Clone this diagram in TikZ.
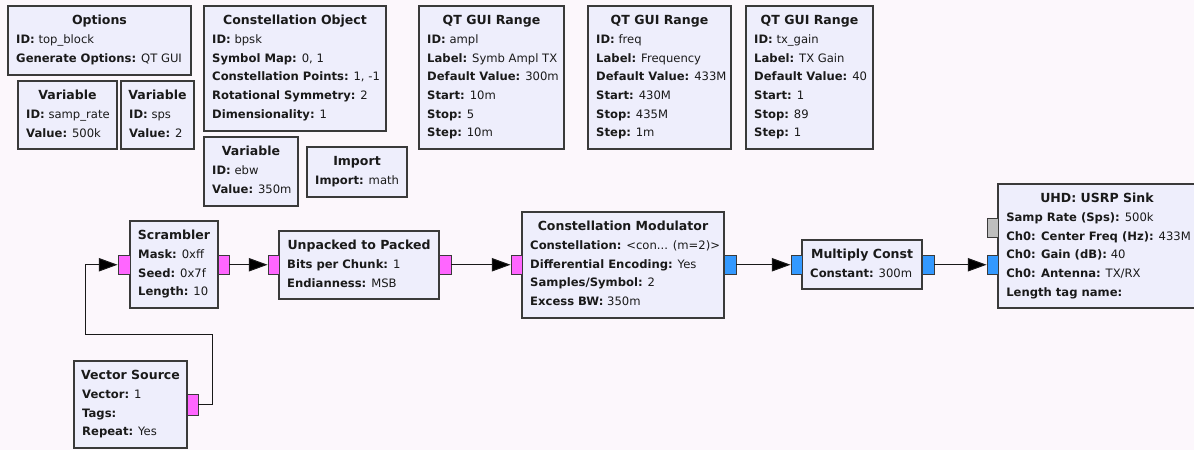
\documentclass[tikz,border=0pt]{standalone}
\usepackage{fontspec}
\setmainfont{DejaVu Sans}
\usetikzlibrary{fit,calc,arrows.meta}
\definecolor{bg}{HTML}{FCF7FC}
\definecolor{boxfill}{HTML}{EEEEFC}
\definecolor{boxline}{HTML}{3A3A3A}
\definecolor{txt}{HTML}{1A1A1A}
\definecolor{pmag}{HTML}{FF66FF}
\definecolor{pblue}{HTML}{3399FF}
\definecolor{pgray}{HTML}{BEBEBE}
\tikzset{
  blkbox/.style={draw=boxline, fill=boxfill, line width=0.8pt, inner sep=0pt, rectangle},
  blktitle/.style={font=\fontsize{9.4}{11}\selectfont\bfseries, text=txt, inner sep=0pt},
  blktext/.style={font=\fontsize{8.7}{11}\selectfont, text=txt, inner sep=0pt},
  portm/.style={draw=boxline, fill=pmag, line width=0.7pt, inner sep=0pt, rectangle},
  portb/.style={draw=boxline, fill=pblue, line width=0.7pt, inner sep=0pt, rectangle},
  portg/.style={draw=boxline, fill=pgray, line width=0.7pt, inner sep=0pt, rectangle},
  conn/.style={draw=black!90, line width=0.75pt, -{Triangle[length=14pt,width=10pt,fill=black]}},
}
\newcounter{blkl}
\newcommand\blk[7]{%
  \node[blkbox, fit={(#2,#3) (#4,#5)}] (#1) {};
  \node[blktitle, anchor=base] at ($(#1.north)+(0,19.5)$) {#6};
  \def\curblk{#1}\setcounter{blkl}{0}#7}
\newcommand\blkline[2]{%
  \node[blktext, anchor=base west] at ($(\curblk.north west)+(8.5,38+18.7*\arabic{blkl})$) {\textbf{#1} #2};
  \stepcounter{blkl}}
\newcommand\port[6]{\node[#6, fit={(#2,#3) (#4,#5)}] (#1) {};}
\begin{document}
\begin{tikzpicture}[x=0.75pt,y=-0.75pt]
\clip (0,0) rectangle (1194,450);
\fill[bg] (0,0) rectangle (1194,450);

\blk{opt}{8}{6}{191}{75}{Options}{\blkline{ID:}{top\_block}\blkline{Generate Options:}{QT GUI}}
\blk{vsr}{18}{81}{117}{149}{Variable}{\blkline{ID:}{samp\_rate}\blkline{Value:}{500k}}
\blk{vsps}{121}{81}{194}{149}{Variable}{\blkline{ID:}{sps}\blkline{Value:}{2}}
\blk{cobj}{204}{6}{386}{131}{Constellation Object}{\blkline{ID:}{bpsk}\blkline{Symbol Map:}{0, 1}\blkline{Constellation Points:}{1, -1}\blkline{Rotational Symmetry:}{2}\blkline{Dimensionality:}{1}}
\blk{vebw}{204}{137}{298}{206}{Variable}{\blkline{ID:}{ebw}\blkline{Value:}{350m}}
\blk{imp}{307}{147}{407}{197}{Import}{\blkline{Import:}{math}}
\blk{qa}{419}{6}{564}{149}{QT GUI Range}{\blkline{ID:}{ampl}\blkline{Label:}{Symb Ampl TX}\blkline{Default Value:}{300m}\blkline{Start:}{10m}\blkline{Stop:}{5}\blkline{Step:}{10m}}
\blk{qf}{588}{6}{731}{149}{QT GUI Range}{\blkline{ID:}{freq}\blkline{Label:}{Frequency}\blkline{Default Value:}{433M}\blkline{Start:}{430M}\blkline{Stop:}{435M}\blkline{Step:}{1m}}
\blk{qg}{746}{6}{873}{149}{QT GUI Range}{\blkline{ID:}{tx\_gain}\blkline{Label:}{TX Gain}\blkline{Default Value:}{40}\blkline{Start:}{1}\blkline{Stop:}{89}\blkline{Step:}{1}}

\blk{scr}{130}{221}{218}{308}{Scrambler}{\blkline{Mask:}{0xff}\blkline{Seed:}{0x7f}\blkline{Length:}{10}}
\blk{up}{279}{231}{439}{299}{Unpacked to Packed}{\blkline{Bits per Chunk:}{1}\blkline{Endianness:}{MSB}}
\blk{cm}{522}{212}{724}{318}{Constellation Modulator}{\blkline{Constellation:}{<con... (m=2)>}\blkline{Differential Encoding:}{Yes}\blkline{Samples/Symbol:}{2}\blkline{Excess BW:}{350m}}
\blk{mc}{802}{240}{922}{289}{Multiply Const}{\blkline{Constant:}{300m}}
\blk{usrp}{998}{184}{1196}{308}{UHD: USRP Sink}{\blkline{Samp Rate (Sps):}{500k}\blkline{Ch0: Center Freq (Hz):}{433M}\blkline{Ch0: Gain (dB):}{40}\blkline{Ch0: Antenna:}{TX/RX}\blkline{Length tag name:}{}}
\blk{vs}{74}{361}{187}{448}{Vector Source}{\blkline{Vector:}{1}\blkline{Tags:}{}\blkline{Repeat:}{Yes}}

\port{scrin}{118}{255}{130}{274.5}{portm}
\port{scrout}{218}{255}{229}{274.5}{portm}
\port{upin}{268}{255}{279}{274.5}{portm}
\port{upout}{439}{255}{451}{274.5}{portm}
\port{cmin}{511}{255}{522}{274.5}{portm}
\port{cmout}{724}{255}{736}{274.5}{portb}
\port{mcin}{791}{255}{802}{274.5}{portb}
\port{mcout}{922}{255}{934}{274.5}{portb}
\port{usin}{987}{255}{998}{274.5}{portb}
\port{usgray}{987}{218}{998}{237}{portg}
\port{vsout}{187}{394}{198}{415}{portm}

\coordinate (c1) at (212,334);
\coordinate (c2) at (85,334);
\draw[conn] (vsout.east) -| (c1) -- (c2) |- (scrin.west);
\draw[conn] (scrout.east) -- (upin.west);
\draw[conn] (upout.east) -- (cmin.west);
\draw[conn] (cmout.east) -- (mcin.west);
\draw[conn] (mcout.east) -- (usin.west);
\end{tikzpicture}
\end{document}
